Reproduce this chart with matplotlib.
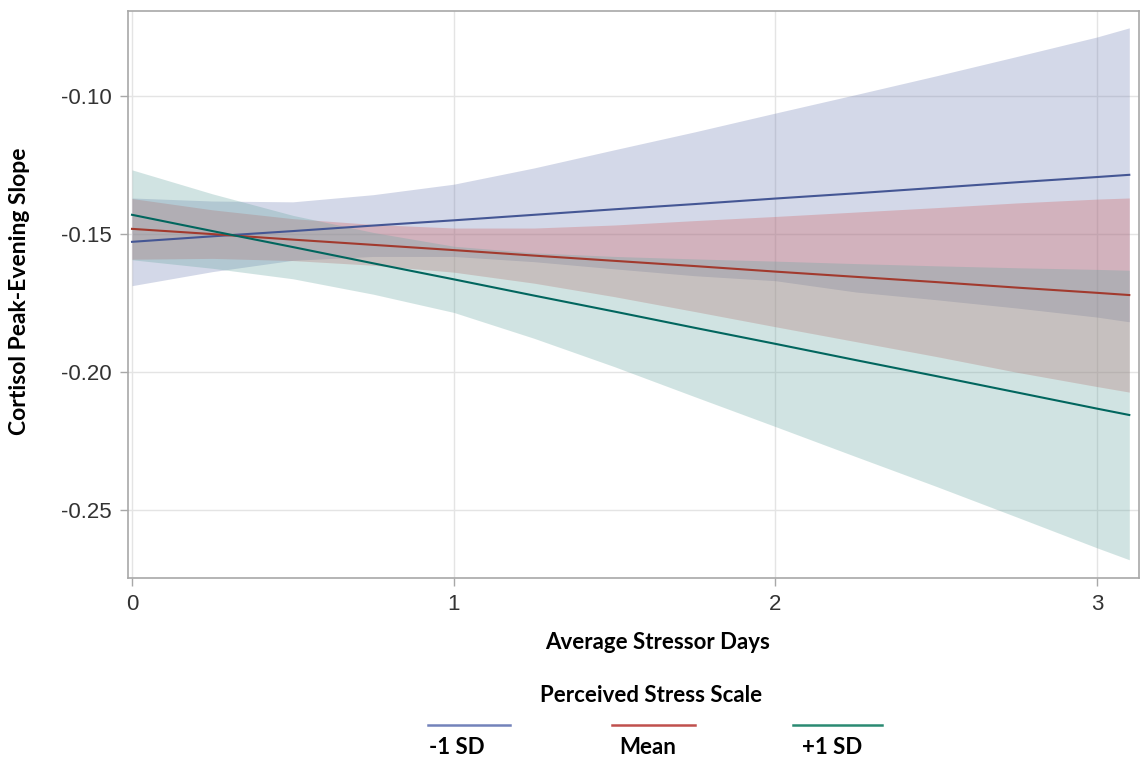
import matplotlib
matplotlib.use("Agg")
import matplotlib.pyplot as plt
from matplotlib.lines import Line2D

# values
x_days = [0.0, 0.25, 0.5, 0.75, 1.0, 1.25, 1.5, 1.75, 2.0, 2.25, 2.5, 2.75, 3.0, 3.1]

low_fit = [-0.1529, -0.1509, -0.1490, -0.1470, -0.1451, -0.1431, -0.1411,
           -0.1392, -0.1372, -0.1353, -0.1333, -0.1313, -0.1294, -0.1286]
low_upper = [-0.1370, -0.1381, -0.1384, -0.1358, -0.1320, -0.1261, -0.1195,
             -0.1130, -0.1062, -0.0995, -0.0927, -0.0857, -0.0786, -0.0753]
low_lower = [-0.1688, -0.1637, -0.1596, -0.1582, -0.1582, -0.1601, -0.1627,
             -0.1652, -0.1670, -0.1711, -0.1739, -0.1769, -0.1802, -0.1819]

mean_fit = [-0.1482, -0.1501, -0.1521, -0.1540, -0.1559, -0.1579, -0.1598,
            -0.1617, -0.1637, -0.1656, -0.1675, -0.1695, -0.1714, -0.1722]
mean_upper = [-0.1372, -0.1413, -0.1445, -0.1466, -0.1479, -0.1479, -0.1468,
              -0.1452, -0.1437, -0.1421, -0.1405, -0.1388, -0.1374, -0.1370]
mean_lower = [-0.1592, -0.1589, -0.1597, -0.1614, -0.1639, -0.1679, -0.1728,
              -0.1782, -0.1837, -0.1891, -0.1945, -0.2002, -0.2054, -0.2074]

high_fit = [-0.1431, -0.1490, -0.1548, -0.1607, -0.1665, -0.1724, -0.1782,
            -0.1841, -0.1899, -0.1958, -0.2016, -0.2075, -0.2134, -0.2157]
high_upper = [-0.1268, -0.1355, -0.1433, -0.1495, -0.1545, -0.1569, -0.1582,
              -0.1591, -0.1599, -0.1608, -0.1616, -0.1623, -0.1629, -0.1632]
high_lower = [-0.1594, -0.1625, -0.1663, -0.1719, -0.1785, -0.1879, -0.1982,
              -0.2091, -0.2199, -0.2308, -0.2416, -0.2527, -0.2639, -0.2682]

group_labels = ["-1 SD", "Mean", "+1 SD"]
x_ticks = [0, 1, 2, 3]
y_ticks = [-0.25, -0.20, -0.15, -0.10]

line_colors = ["#445694", "#A23A2E", "#01665E"]
fill_colors = ["#6F7EB3", "#D05B5B", "#66A5A0"]
legend_colors = ["#7382BA", "#C0504D", "#2A8A72"]

bold_font = ["Lato", "DejaVu Sans"]
tick_font = ["Liberation Sans", "DejaVu Sans"]
W, H = 1141, 761

fig = plt.figure(figsize=(11.41, 7.61), dpi=100)
ax = fig.add_axes([0.1126, 0.2409, 0.8856, 0.7446])

series = [
    (low_fit, low_upper, low_lower),
    (mean_fit, mean_upper, mean_lower),
    (high_fit, high_upper, high_lower),
]
for i, (fit, up, lo) in enumerate(series):
    ax.fill_between(x_days, lo, up, color=fill_colors[i], alpha=0.3, linewidth=0, zorder=2)
for i, (fit, up, lo) in enumerate(series):
    ax.plot(x_days, fit, color=line_colors[i], linewidth=1.5, zorder=3)

ax.set_xlim(-0.011, 3.13)
ax.set_ylim(-0.2747, -0.0692)
ax.set_xticks(x_ticks)
ax.set_yticks(y_ticks)
ax.set_xticklabels([str(t) for t in x_ticks], family=tick_font, fontsize=16, color="#333333")
ax.set_yticklabels(["%.2f" % t for t in y_ticks], family=tick_font, fontsize=16, color="#333333")
ax.grid(True, color="#e4e4e4", linewidth=1, zorder=1)
ax.set_axisbelow(True)
for s in ax.spines.values():
    s.set_color("#a8a8a8")
    s.set_linewidth(1.2)
ax.tick_params(direction="out", length=6, width=1, color="#a8a8a8", pad=6)

ax.set_xlabel("Average Stressor Days", family=bold_font, fontweight="bold", fontsize=16)
ax.set_ylabel("Cortisol Peak-Evening Slope", family=bold_font, fontweight="bold", fontsize=16.5)
ax.xaxis.set_label_coords((658 - 128.5) / 1010.5, -(643 - 577.7) / 566.7)
ax.xaxis.label.set_va("center")
ax.yaxis.set_label_coords((20 - 128.5) / 1010.5, (577.7 - 291) / 566.7)
ax.yaxis.label.set_va("center")

# legend drawn by hand: line above each label
fig.text(651 / W, 1 - 695 / H, "Perceived Stress Scale", family=bold_font,
         fontweight="bold", fontsize=16, ha="center", va="center")
seg_x = [(428, 510), (612, 695), (793, 882)]
lab_x = [457, 648, 832]
for i in range(3):
    x0, x1 = seg_x[i]
    fig.add_artist(Line2D([x0 / W, x1 / W], [1 - 725 / H, 1 - 725 / H],
                          color=legend_colors[i], linewidth=1.8))
    fig.text(lab_x[i] / W, 1 - 748 / H, group_labels[i], family=bold_font,
             fontweight="bold", fontsize=16, ha="center", va="center")

fig.savefig("out.png", dpi=100)
